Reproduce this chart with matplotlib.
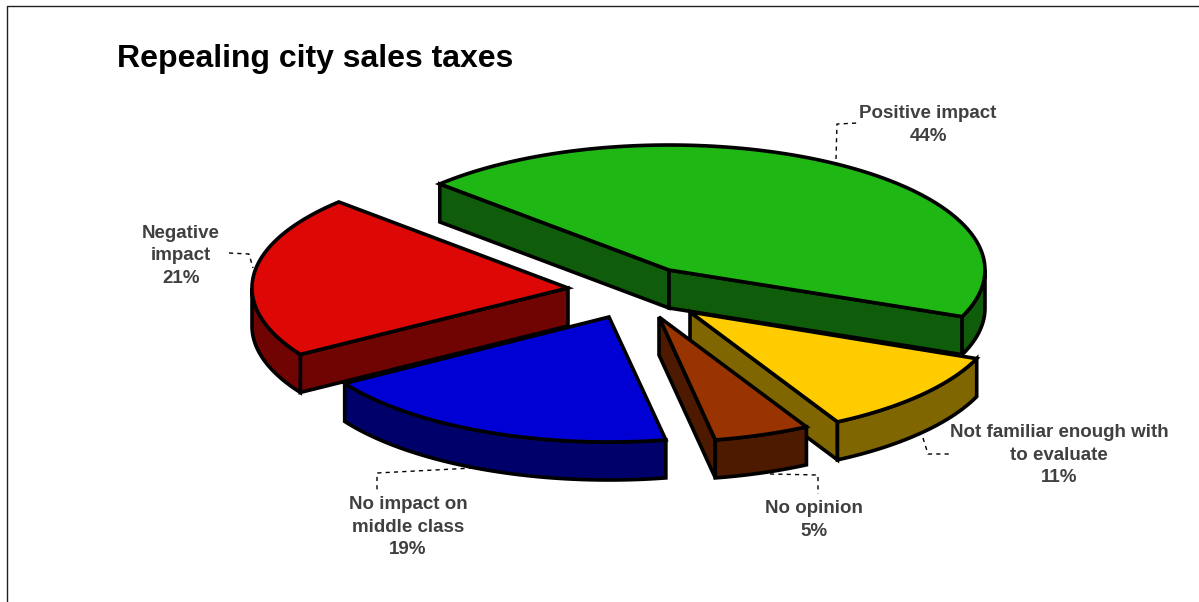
import numpy as np
import matplotlib
matplotlib.use("Agg")
import matplotlib.pyplot as plt
from matplotlib.patches import Polygon

plt.rcParams["font.family"] = ["Liberation Sans", "DejaVu Sans"]

# ---------------------------
# data
# ---------------------------
labels = [
    "Positive impact",
    "Not familiar enough with\nto evaluate",
    "No opinion",
    "No impact on\nmiddle class",
    "Negative\nimpact",
]
values = [44, 11, 5, 19, 21]
top_colors = ["#1FB714", "#FFCC00", "#993300", "#0000D4", "#DD0806"]
side_colors = ["#0F5C0A", "#806600", "#4D1A00", "#00006A", "#6F0403"]

# ---------------------------
# pie geometry (pixels)
# ---------------------------
CX, CY = 637, 292
RY = 125
DEPTH = 38
START = 136.5
LW = 2.6

# horizontal radius and how far each slice is pulled out of the pie
radii = [316, 309, 309, 312, 316]
explode = [(32, -22), (53, 20), (22, 25), (-28, 25), (-69, -4)]

label_pos = [(928, 125), (1059, 455), (814, 520), (408, 527), (181, 256)]
leaders = [
    [(836, 159), (837, 124), (858, 123)],
    [(923, 438), (928, 454), (949, 454)],
    [(770, 474), (818, 475), (818, 494)],
    [(473, 468), (377, 473), (377, 491)],
    [(229, 253), (249, 254), (253, 268)],
]
# back slices first so the front ones cover them
draw_order = [0, 4, 1, 3, 2]

fig = plt.figure(figsize=(11.99, 6.02), dpi=100)
ax = fig.add_axes([0, 0, 1, 1])
ax.set_xlim(0, 1199)
ax.set_ylim(602, 0)
ax.axis("off")


def rim(apex, rx, t1, t2, n=120):
    t = np.radians(np.linspace(t1, t2, n))
    return np.column_stack([apex[0] + rx * np.cos(t), apex[1] - RY * np.sin(t)])


def wall(pts, color):
    # extrude a top edge downwards into a closed side face
    low = pts[::-1] + [0, DEPTH]
    ax.add_patch(Polygon(np.vstack([pts, low]), closed=True, fc=color, ec="black",
                         lw=LW, joinstyle="miter", zorder=3))


# ---------------------------
# slices
# ---------------------------
sweeps = np.array(values) / sum(values) * 360
ends = START - np.cumsum(sweeps)
starts = ends + sweeps

for i in draw_order:
    t1, t2 = starts[i], ends[i]
    rx = radii[i]
    apex = np.array([CX + explode[i][0], CY + explode[i][1]])

    # flat side faces, only those turned towards the viewer
    if np.cos(np.radians(t1)) < 0:
        wall(np.vstack([apex, rim(apex, rx, t1, t1, 1)]), side_colors[i])
    if np.cos(np.radians(t2)) > 0:
        wall(np.vstack([apex, rim(apex, rx, t2, t2, 1)]), side_colors[i])

    # curved outer face on the lower half of the ellipse
    for lo, hi in [(-180, 0), (-540, -360)]:
        a, b = min(t1, hi), max(t2, lo)
        if a > b:
            wall(rim(apex, rx, a, b), side_colors[i])

    ax.add_patch(Polygon(np.vstack([apex, rim(apex, rx, t1, t2)]), closed=True,
                         fc=top_colors[i], ec="black", lw=LW, joinstyle="miter", zorder=3))

# ---------------------------
# labels and leader lines
# ---------------------------
for name, val, (x, y), path in zip(labels, values, label_pos, leaders):
    ax.text(x, y, f"{name}\n{val}%", ha="center", va="center", fontsize=13.5,
            fontweight="bold", color="#404040", linespacing=1.39, zorder=5)
    xs, ys = zip(*path)
    ax.plot(xs, ys, color="black", lw=1.0, ls=(0, (3, 3)), zorder=2)

ax.text(117, 59, "Repealing city sales taxes", ha="left", va="center", fontsize=23,
        fontweight="bold", color="black")

# frame around the chart area, open at the bottom and right
ax.plot([7, 7, 1199], [602, 6, 6], color="#222222", lw=1.0, zorder=1)

fig.savefig("out.png", dpi=100)
